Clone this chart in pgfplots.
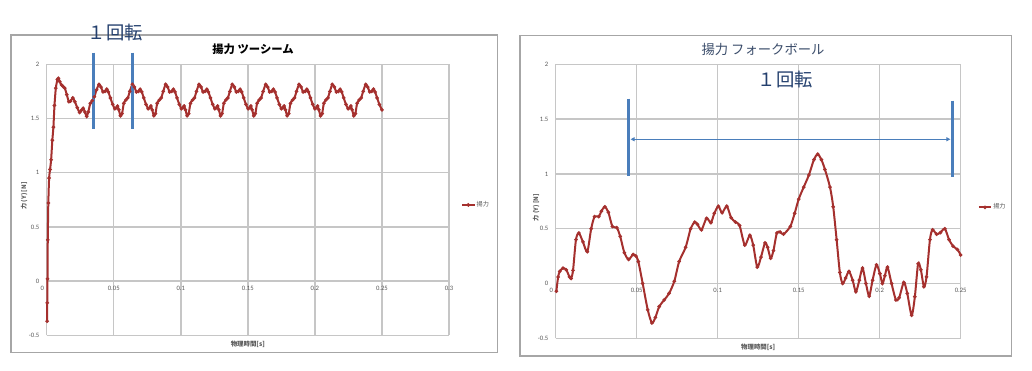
\documentclass[border=0pt]{standalone}
\usepackage{fontspec}
\usepackage{pgfplots}
\pgfplotsset{compat=1.18}
\usetikzlibrary{arrows.meta}
\setmainfont{Carlito}
\newfontfamily\jp{Noto Sans CJK JP}
\definecolor{curve}{RGB}{165,48,46}
\definecolor{gridc}{RGB}{198,198,198}
\definecolor{framec}{RGB}{166,166,166}
\definecolor{tickc}{RGB}{89,89,89}
\definecolor{annblue}{RGB}{74,126,187}
\definecolor{anntext}{RGB}{36,64,110}
\definecolor{titleb}{RGB}{58,76,106}
\tikzset{zerolabel/.style={anchor=north east, font=\fontsize{5}{6}\selectfont, text=tickc, inner sep=0.333em, xshift=0.15em}}
\pgfplotsset{
  mychart/.style={
    scale only axis,
    axis line style={draw=none},
    major tick length=0pt,
    grid=major,
    grid style={color=gridc,line width=1.1pt},
    ytick={-0.5,0,0.5,1,1.5,2},
    ymin=-0.5, ymax=2,
    tick label style={font=\fontsize{5}{6}\selectfont, text=tickc},
    /pgf/number format/assume math mode=true,
    yticklabel style={xshift=-2pt},
    xlabel style={at={(axis description cs:0.5,0)}, anchor=north, yshift=-0.5pt, font=\jp\bfseries\fontsize{4.8}{6}\selectfont, text=tickc},
    ylabel style={font=\jp\bfseries\fontsize{4.6}{6}\selectfont, text=tickc, rotate=0},
    legend style={draw=none, fill=none, font=\jp\fontsize{4.6}{6}\selectfont, text=tickc, anchor=west, inner sep=0pt, nodes={inner sep=1pt}},
    legend image code/.code={\draw[mark repeat=2,mark phase=2,#1] plot coordinates {(0pt,0pt) (4.5pt,0pt) (9pt,0pt)};},
    clip=false,
  },
}
\begin{document}
\begin{tikzpicture}
\useasboundingbox (0,0) rectangle (774pt,278.25pt);
\fill[white] (0,0) rectangle (774pt,278.25pt);
\draw[framec,line width=0.8pt] (8.25pt,13.73pt) rectangle (373.28pt,252pt);
\draw[framec,line width=0.8pt] (390pt,11.25pt) rectangle (758.78pt,251.78pt);

% ---------------- left chart ----------------
\begin{axis}[mychart,
  at={(35.03pt,26.78pt)}, anchor=south west,
  width=301.7pt, height=203.25pt,
  xmin=0, xmax=0.3,
  xtick={0,0.05,0.1,0.15,0.2,0.25,0.3},
  xticklabels={,0.05,0.1,0.15,0.2,0.25,0.3},
  xticklabel style={yshift=40.65pt},
  xlabel={物理時間[s]},
  ylabel={力 (Y) [N]},
  ylabel style={at={(axis description cs:-0.0564,0.514)}, anchor=center},
  legend style={at={(axis description cs:1.03,0.481)}},
]
\addplot[curve, line width=1.5pt, smooth, tension=0.4, mark=*, mark size=0.45pt] coordinates {
(0.0003,-0.37) (0.0004,-0.2) (0.0006,0.02) (0.0008,0.38) (0.0012,0.72) (0.0018,0.95) (0.0025,1.03) (0.0033,1.12) (0.0042,1.3) (0.0050,1.42) (0.0058,1.62) (0.0068,1.78) (0.0080,1.86) (0.0087,1.87) (0.0098,1.84) (0.0110,1.81) (0.0122,1.795) (0.0135,1.78) (0.0150,1.72) (0.0165,1.655) (0.0178,1.66) (0.0195,1.69) (0.0210,1.655) (0.0228,1.60) (0.0245,1.555) (0.0258,1.575) (0.0272,1.595) (0.0285,1.56) (0.0298,1.52) (0.0310,1.56) (0.0325,1.64) (0.0340,1.665) (0.0355,1.70) (0.0372,1.765)
(0.0390,1.815) (0.0405,1.79) (0.0420,1.745) (0.0435,1.75) (0.0448,1.77) (0.0460,1.745) (0.0475,1.69) (0.0492,1.63) (0.0508,1.59) (0.0520,1.60) (0.0528,1.615) (0.0538,1.58) (0.0550,1.525) (0.0562,1.545) (0.0575,1.64) (0.0590,1.67) (0.0605,1.69) (0.0620,1.75)
(0.0639,1.815) (0.0654,1.79) (0.0669,1.745) (0.0684,1.75) (0.0697,1.77) (0.0709,1.745) (0.0724,1.69) (0.0741,1.63) (0.0757,1.59) (0.0769,1.60) (0.0777,1.615) (0.0787,1.58) (0.0799,1.525) (0.0811,1.545) (0.0824,1.64) (0.0839,1.67) (0.0854,1.69) (0.0869,1.75)
(0.0887,1.815) (0.0902,1.79) (0.0917,1.745) (0.0932,1.75) (0.0945,1.77) (0.0957,1.745) (0.0972,1.69) (0.0989,1.63) (0.1005,1.59) (0.1017,1.60) (0.1025,1.615) (0.1035,1.58) (0.1047,1.525) (0.1059,1.545) (0.1072,1.64) (0.1087,1.67) (0.1102,1.69) (0.1117,1.75)
(0.1136,1.815) (0.1151,1.79) (0.1166,1.745) (0.1181,1.75) (0.1194,1.77) (0.1206,1.745) (0.1221,1.69) (0.1238,1.63) (0.1254,1.59) (0.1266,1.60) (0.1274,1.615) (0.1284,1.58) (0.1296,1.525) (0.1308,1.545) (0.1321,1.64) (0.1336,1.67) (0.1351,1.69) (0.1366,1.75)
(0.1384,1.815) (0.1399,1.79) (0.1414,1.745) (0.1429,1.75) (0.1442,1.77) (0.1454,1.745) (0.1469,1.69) (0.1486,1.63) (0.1502,1.59) (0.1514,1.60) (0.1522,1.615) (0.1532,1.58) (0.1544,1.525) (0.1556,1.545) (0.1569,1.64) (0.1584,1.67) (0.1599,1.69) (0.1614,1.75)
(0.1633,1.815) (0.1648,1.79) (0.1663,1.745) (0.1678,1.75) (0.1691,1.77) (0.1703,1.745) (0.1718,1.69) (0.1735,1.63) (0.1751,1.59) (0.1763,1.60) (0.1771,1.615) (0.1781,1.58) (0.1793,1.525) (0.1805,1.545) (0.1818,1.64) (0.1833,1.67) (0.1848,1.69) (0.1863,1.75)
(0.1882,1.815) (0.1897,1.79) (0.1912,1.745) (0.1927,1.75) (0.1940,1.77) (0.1952,1.745) (0.1967,1.69) (0.1984,1.63) (0.2000,1.59) (0.2012,1.60) (0.2020,1.615) (0.2030,1.58) (0.2042,1.525) (0.2054,1.545) (0.2067,1.64) (0.2082,1.67) (0.2097,1.69) (0.2112,1.75)
(0.2130,1.815) (0.2145,1.79) (0.2160,1.745) (0.2175,1.75) (0.2188,1.77) (0.2200,1.745) (0.2215,1.69) (0.2232,1.63) (0.2248,1.59) (0.2260,1.60) (0.2268,1.615) (0.2278,1.58) (0.2290,1.525) (0.2302,1.545) (0.2315,1.64) (0.2330,1.67) (0.2345,1.69) (0.2360,1.75)
(0.2379,1.815) (0.2394,1.79) (0.2409,1.745) (0.2424,1.75) (0.2437,1.77) (0.2449,1.745) (0.2464,1.69) (0.2481,1.63) (0.2500,1.58)
};
\addlegendentry{揚力}
\node[zerolabel] at (axis cs:0,0) {0};
\node[font=\jp\bfseries\fontsize{8.5}{10}\selectfont, text=black] at (axis description cs:0.513,1.0565) {揚力 ツーシーム};
\node[font=\jp\fontsize{13.75}{16}\selectfont, text=anntext] at (axis description cs:0.171,1.1166) {１回転};
\draw[annblue, line width=2.25pt] (axis cs:0.0348,2.107) -- (axis cs:0.0348,1.403);
\draw[annblue, line width=2.25pt] (axis cs:0.0638,2.107) -- (axis cs:0.0638,1.403);
\end{axis}

% ---------------- right chart ----------------
\begin{axis}[mychart,
  at={(416.78pt,24.53pt)}, anchor=south west,
  width=303.75pt, height=205.5pt,
  xmin=0, xmax=0.25,
  xtick={0,0.05,0.1,0.15,0.2,0.25},
  xticklabels={,0.05,0.1,0.15,0.2,0.25},
  xticklabel style={yshift=40.95pt},
  xlabel={物理時間[s]},
  ylabel={力 (Y) [N]},
  ylabel style={at={(axis description cs:-0.0486,0.476)}, anchor=center},
  legend style={at={(axis description cs:1.042,0.478)}},
]
\addplot[curve, line width=1.5pt, smooth, tension=0.45, mark=*, mark size=0.45pt] coordinates {
(0.0004,-0.07) (0.0015,0.06) (0.0025,0.11) (0.0045,0.14) (0.0065,0.125) (0.0085,0.06) (0.0095,0.045) (0.0107,0.12) (0.0125,0.40) (0.0143,0.46) (0.0168,0.38) (0.0195,0.29) (0.0219,0.50) (0.0240,0.61) (0.0266,0.61) (0.0282,0.66) (0.0303,0.70) (0.0325,0.65) (0.0350,0.52) (0.0377,0.51) (0.0398,0.43) (0.0424,0.28) (0.0450,0.22) (0.0478,0.265) (0.0495,0.25) (0.0510,0.20) (0.0537,0.0) (0.0568,-0.24) (0.0594,-0.36) (0.0615,-0.31) (0.0639,-0.21) (0.0670,-0.15) (0.0700,-0.09) (0.0732,0.02) (0.0762,0.20) (0.0802,0.33) (0.0833,0.50) (0.0858,0.56) (0.0875,0.54) (0.0900,0.49) (0.0931,0.595) (0.0958,0.555) (0.0979,0.64) (0.1004,0.705) (0.1027,0.645) (0.1056,0.705) (0.1083,0.60) (0.1110,0.56) (0.1135,0.53) (0.1167,0.35) (0.1198,0.44) (0.1219,0.35) (0.1244,0.15) (0.1267,0.24) (0.1292,0.37) (0.1308,0.33) (0.1327,0.23) (0.1344,0.30) (0.1365,0.46) (0.1385,0.47) (0.1406,0.45) (0.1448,0.52) (0.1475,0.64) (0.1500,0.77) (0.1531,0.88) (0.1563,0.99) (0.1594,1.13) (0.1617,1.18) (0.1640,1.13) (0.1662,1.04) (0.1693,0.88) (0.1713,0.70) (0.1734,0.40) (0.1754,0.10) (0.1771,0.0) (0.1790,0.05) (0.1810,0.11) (0.1833,0.03) (0.1853,-0.075) (0.1874,0.03) (0.1894,0.14) (0.1915,0.0) (0.1935,-0.115) (0.1956,0.03) (0.1980,0.17) (0.2001,0.09) (0.2017,0.0) (0.2032,0.07) (0.2048,0.15) (0.2073,0.0) (0.2100,-0.15) (0.2120,-0.13) (0.2149,0.01) (0.2170,-0.09) (0.2197,-0.29) (0.2217,-0.12) (0.2237,0.18) (0.2254,0.125) (0.2273,-0.03) (0.2289,0.06) (0.2310,0.40) (0.2326,0.49) (0.2351,0.45) (0.2375,0.465) (0.2402,0.50) (0.2428,0.40) (0.2453,0.34) (0.2480,0.31) (0.2500,0.26)
};
\addlegendentry{揚力}
\node[zerolabel] at (axis cs:0,0) {0};
\node[font=\jp\fontsize{10}{12}\selectfont, text=titleb] at (axis description cs:0.512,1.0547) {揚力 フォークボール};
\node[font=\jp\fontsize{13.75}{16}\selectfont, text=anntext] at (axis description cs:0.567,0.946) {１回転};
\draw[annblue, line width=2.25pt] (axis cs:0.04506,1.686) -- (axis cs:0.04506,0.984);
\draw[annblue, line width=2.25pt] (axis cs:0.2448,1.668) -- (axis cs:0.2448,0.970);
\draw[annblue, line width=0.75pt, {Triangle[length=3pt,width=3pt]}-{Triangle[length=3pt,width=3pt]}] (axis cs:0.0462,1.316) -- (axis cs:0.2436,1.316);
\end{axis}
\end{tikzpicture}
\end{document}
